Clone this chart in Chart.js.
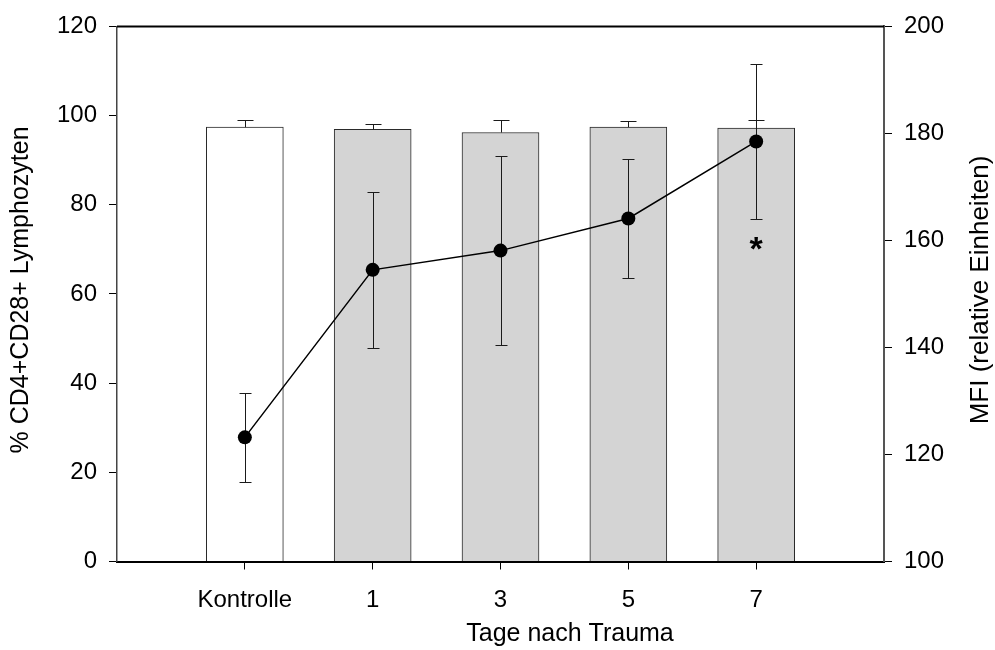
<!DOCTYPE html>
<html>
<head>
<meta charset="utf-8">
<script src="https://cdn.jsdelivr.net/npm/chart.js@4.4.1/dist/chart.umd.min.js"></script>
<style>
  html, body { margin: 0; padding: 0; background: #ffffff; }
  canvas { display: block; }
</style>
</head>
<body>
<canvas id="chart" width="995" height="650"></canvas>
<script>
// Categories (empty slots at both ends leave room beside the first and last bar)
const categories = ['', 'Kontrolle', '1', '3', '5', '7', ''];

// % CD4+CD28+ lymphocytes (bars, left axis) and upper SEM
const pctCD4CD28 = [null, 97.4, 96.9, 96.2, 97.4, 97.2, null];
const pctSem     = [null, 1.5, 1.3, 2.7, 1.3, 1.7, null];

// MFI in relative units (line, right axis) and SEM
const mfiValues = [null, 123.2, 154.5, 158.1, 164.1, 178.5, null];
const mfiSem    = [null, 8.3, 14.6, 17.7, 11.1, 14.4, null];

// Axis ticks
const leftTicks  = [0, 20, 40, 60, 80, 100, 120];
const rightTicks = [100, 120, 140, 160, 180, 200];

// Significance marker: category index and MFI level
const markerIndex = 5;
const markerValue = 160;
const markerText = '*';

const FONT = "'Liberation Sans', Arial, sans-serif";

const errorBars = {
  id: 'errorBars',
  beforeDatasetDraw(chart, args) {
    if (args.index !== 1) return;
    const { ctx } = chart;
    const x = chart.scales.x, yL = chart.scales.y, yR = chart.scales.y1;
    const seg = (x1, y1, x2, y2) => { ctx.beginPath(); ctx.moveTo(x1, y1); ctx.lineTo(x2, y2); ctx.stroke(); };
    ctx.save();
    ctx.strokeStyle = '#1a1a1a';
    ctx.lineWidth = 1;
    pctCD4CD28.forEach((v, i) => {
      if (v == null) return;
      const px = Math.round(x.getPixelForValue(i)) + 0.5;
      const top = yL.getPixelForValue(v);
      const cap = Math.round(yL.getPixelForValue(v + pctSem[i])) + 0.5;
      seg(px, top, px, cap);
      seg(px - 8, cap, px + 8, cap);
    });
    mfiValues.forEach((v, i) => {
      if (v == null) return;
      const px = Math.round(x.getPixelForValue(i)) + 0.5;
      const hi = Math.round(yR.getPixelForValue(v + mfiSem[i])) + 0.5;
      const lo = Math.round(yR.getPixelForValue(v - mfiSem[i])) + 0.5;
      seg(px, hi, px, lo);
      seg(px - 6, hi, px + 6, hi);
      seg(px - 6, lo, px + 6, lo);
    });
    ctx.restore();
  }
};

const frameAndTitles = {
  id: 'frameAndTitles',
  afterDraw(chart) {
    const { ctx, chartArea } = chart;
    ctx.save();
    // top frame line
    ctx.strokeStyle = '#000';
    ctx.lineWidth = 2;
    ctx.beginPath();
    ctx.moveTo(chartArea.left, chartArea.top);
    ctx.lineTo(chartArea.right, chartArea.top);
    ctx.stroke();

    ctx.fillStyle = '#000';
    ctx.textBaseline = 'alphabetic';
    ctx.textAlign = 'center';
    ctx.font = '25px ' + FONT;
    const midY = (chartArea.top + chartArea.bottom) / 2 - 4;

    ctx.save();
    ctx.translate(28, midY);
    ctx.rotate(-Math.PI / 2);
    ctx.fillText('% CD4+CD28+ Lymphozyten', 0, 0);
    ctx.restore();

    ctx.save();
    ctx.font = '26px ' + FONT;
    ctx.translate(988, midY);
    ctx.rotate(-Math.PI / 2);
    ctx.fillText('MFI (relative Einheiten)', 0, 0);
    ctx.restore();

    ctx.fillText('Tage nach Trauma', 570, 641);

    // significance marker
    ctx.font = 'bold 34px ' + FONT;
    const mx = chart.scales.x.getPixelForValue(markerIndex);
    const my = chart.scales.y1.getPixelForValue(markerValue);
    ctx.fillText(markerText, mx, my + 20);
    ctx.restore();
  }
};

new Chart(document.getElementById('chart'), {
  data: {
    labels: categories,
    datasets: [
      {
        type: 'bar',
        label: '% CD4+CD28+ Lymphozyten',
        data: pctCD4CD28,
        yAxisID: 'y',
        order: 2,
        backgroundColor: categories.map((c, i) => i === 1 ? '#ffffff' : '#d4d4d4'),
        borderColor: '#2a2a2a',
        borderWidth: 1,
        barThickness: 77
      },
      {
        type: 'line',
        label: 'MFI',
        data: mfiValues,
        yAxisID: 'y1',
        order: 1,
        borderColor: '#000000',
        borderWidth: 1.5,
        pointRadius: 7,
        pointBackgroundColor: '#000000',
        pointBorderColor: '#000000',
        pointBorderWidth: 0,
        tension: 0,
        spanGaps: false
      }
    ]
  },
  options: {
    responsive: false,
    animation: false,
    devicePixelRatio: 1,
    layout: { padding: { top: 24, left: 0, right: 0, bottom: 0 } },
    plugins: { legend: { display: false }, tooltip: { enabled: false } },
    scales: {
      x: {
        type: 'category',
        offset: false,
        grid: {
          offset: false,
          drawOnChartArea: false,
          drawTicks: true,
          tickLength: 8,
          color: (c) => (categories[c.index] === '' ? 'rgba(0,0,0,0)' : '#000'),
          lineWidth: 1
        },
        border: { display: true, color: '#000', width: 2 },
        ticks: { color: '#000', font: { family: FONT, size: 24 }, padding: 16, maxRotation: 0, autoSkip: false },
        afterFit(scale) { scale.height = 88.5; }
      },
      y: {
        position: 'left',
        min: leftTicks[0],
        max: leftTicks[leftTicks.length - 1],
        grid: { drawOnChartArea: false, drawTicks: true, tickLength: 8, color: '#000', lineWidth: 1 },
        border: { display: true, color: '#444', width: 1.5 },
        ticks: { stepSize: leftTicks[1] - leftTicks[0], color: '#000', font: { family: FONT, size: 24 }, padding: 12 },
        afterFit(scale) { scale.width = 117; }
      },
      y1: {
        position: 'right',
        min: rightTicks[0],
        max: rightTicks[rightTicks.length - 1],
        grid: { drawOnChartArea: false, drawTicks: true, tickLength: 8, color: '#000', lineWidth: 1 },
        border: { display: true, color: '#555', width: 2 },
        ticks: { stepSize: rightTicks[1] - rightTicks[0], color: '#000', font: { family: FONT, size: 24 }, padding: 12 },
        afterFit(scale) { scale.width = 111; }
      }
    }
  },
  plugins: [errorBars, frameAndTitles]
});
</script>
</body>
</html>
